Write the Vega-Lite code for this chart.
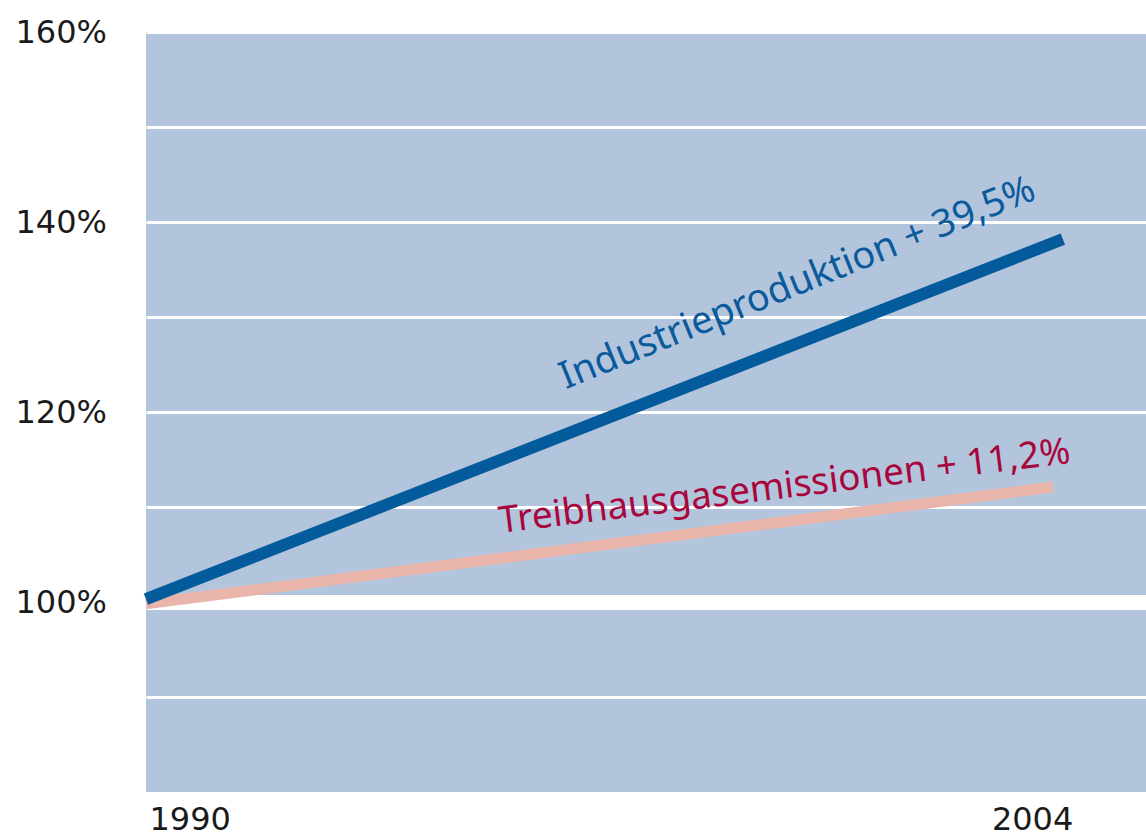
{
  "$schema": "https://vega.github.io/schema/vega-lite/v6.json",
  "width": 1000,
  "height": 760,
  "autosize": {"type": "none"},
  "padding": {"left": 146, "top": 32, "right": 0, "bottom": 48},
  "background": "#ffffff",
  "config": {
    "view": {"fill": "#b3c5dc", "stroke": null},
    "font": "Noto Sans"
  },
  "datasets": {
    "series": [
      {"year": 1990, "value": 100.3, "series": "Industrieproduktion"},
      {"year": 2004, "value": 138.2, "series": "Industrieproduktion"},
      {"year": 1990, "value": 99.8, "series": "Treibhausgasemissionen"},
      {"year": 2003.85, "value": 112.1, "series": "Treibhausgasemissionen"}
    ],
    "labels": [
      {"year": 1999.95, "value": 133.5, "text": "Industrieproduktion + 39,5%", "series": "Industrieproduktion"},
      {"year": 1999.75, "value": 112.1, "text": "Treibhausgasemissionen + 11,2%", "series": "Treibhausgasemissionen"}
    ]
  },
  "layer": [
    {
      "data": {"name": "series"},
      "transform": [{"filter": "datum.series == 'Treibhausgasemissionen'"}],
      "mark": {"type": "line", "color": "#e9b5ab", "strokeWidth": 11, "strokeCap": "butt"},
      "encoding": {
        "x": {
          "field": "year", "type": "quantitative",
          "scale": {"domain": [1990, 2005.27], "nice": false, "zero": false},
          "axis": {
            "values": [1990, 2004], "title": null, "grid": false, "domain": false, "ticks": false,
            "labelFont": "DejaVu Sans", "labelFontSize": 32, "labelColor": "#1a1a1a", "labelPadding": 37, "labelBaseline": "alphabetic",
            "labelFlush": false, "labelBound": false,
            "labelAlign": {"condition": {"test": "datum.value == 1990", "value": "left"}, "value": "right"},
            "labelOffset": {"condition": {"test": "datum.value == 1990", "value": 3}, "value": 10},
            "format": "d"
          }
        },
        "y": {
          "field": "value", "type": "quantitative",
          "scale": {"domain": [80, 160], "nice": false, "zero": false},
          "axis": {
            "values": [90, 100, 110, 120, 130, 140, 150, 160], "title": null, "domain": false, "ticks": false,
            "grid": true, "gridColor": "#ffffff",
            "gridWidth": {"condition": {"test": "datum.value == 100", "value": 15}, "value": 3},
            "labelExpr": "datum.value % 20 == 0 ? datum.value + '%' : ''",
            "labelFont": "DejaVu Sans", "labelFontSize": 32, "labelColor": "#1a1a1a", "labelAlign": "left", "labelPadding": 131,
            "labelBaseline": "middle", "labelFlush": false, "labelBound": false, "labelOverlap": false
          }
        }
      }
    },
    {
      "data": {"name": "series"},
      "transform": [{"filter": "datum.series == 'Industrieproduktion'"}],
      "mark": {"type": "line", "color": "#035b9b", "strokeWidth": 12, "strokeCap": "butt"},
      "encoding": {
        "x": {"field": "year", "type": "quantitative"},
        "y": {"field": "value", "type": "quantitative"}
      }
    },
    {
      "data": {"name": "labels"},
      "transform": [{"filter": "datum.series == 'Industrieproduktion'"}],
      "mark": {"type": "text", "color": "#0a5a9c", "fontSize": 38, "angle": -22, "align": "center", "baseline": "middle"},
      "encoding": {
        "x": {"field": "year", "type": "quantitative"},
        "y": {"field": "value", "type": "quantitative"},
        "text": {"field": "text"}
      }
    },
    {
      "data": {"name": "labels"},
      "transform": [{"filter": "datum.series == 'Treibhausgasemissionen'"}],
      "mark": {"type": "text", "color": "#a8073d", "fontSize": 37, "angle": -7, "align": "center", "baseline": "middle"},
      "encoding": {
        "x": {"field": "year", "type": "quantitative"},
        "y": {"field": "value", "type": "quantitative"},
        "text": {"field": "text"}
      }
    }
  ]
}
